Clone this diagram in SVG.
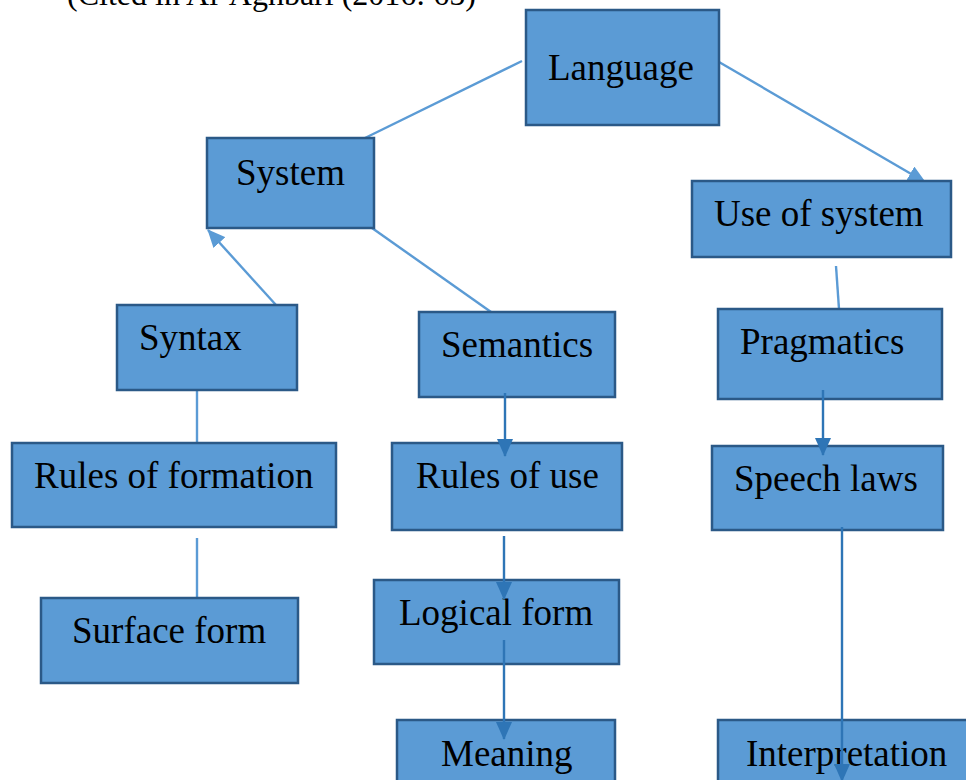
<svg xmlns="http://www.w3.org/2000/svg" width="966" height="780" viewBox="0 0 966 780">
<defs>
<style>
.box{fill:#5b9bd5;stroke:#2b5987;stroke-width:2.5}
.t{font-family:"Liberation Serif","Times New Roman",serif;font-size:37px;fill:#000}
.cap{font-family:"Liberation Serif","Times New Roman",serif;font-size:32px;fill:#000}
.cl{stroke:#5b9bd5;stroke-width:2.4;fill:none}
.cd{stroke:#2e75b6;stroke-width:2.4;fill:none}
</style>
<marker id="al" markerUnits="userSpaceOnUse" markerWidth="18" markerHeight="16" viewBox="0 0 18 16" refX="17" refY="8" orient="auto"><path d="M0,0 L18,8 L0,16 Z" fill="#5b9bd5"/></marker>
<marker id="ad" markerUnits="userSpaceOnUse" markerWidth="18" markerHeight="16" viewBox="0 0 18 16" refX="17" refY="8" orient="auto"><path d="M0,0 L18,8 L0,16 Z" fill="#2e75b6"/></marker>
</defs>
<rect width="966" height="780" fill="#fff"/>
<text class="cap" x="67" y="5">(Cited in Al-Aghbari (2016: 65)</text>
<g id="connectors">
<line class="cl" x1="522" y1="61" x2="365" y2="138"/>
<line class="cl" x1="719" y1="62" x2="925" y2="182" marker-end="url(#al)"/>
<line class="cl" x1="276" y1="305" x2="208" y2="230" marker-end="url(#al)"/>
<line class="cl" x1="372" y1="228" x2="491" y2="312"/>
<line class="cl" x1="197" y1="390" x2="197" y2="443"/>
<line class="cl" x1="197" y1="538" x2="197" y2="598"/>
<line class="cl" x1="836" y1="266" x2="839" y2="309"/>
</g>
<g id="n-language"><rect class="box" x="526" y="10" width="193" height="115"/><text class="t" x="548" y="80">Language</text></g>
<g id="n-system"><rect class="box" x="207" y="138" width="167" height="90"/><text class="t" x="236" y="185">System</text></g>
<g id="n-use"><rect class="box" x="692" y="181" width="259" height="76"/><text class="t" x="714" y="226">Use of system</text></g>
<g id="n-syntax"><rect class="box" x="117" y="305" width="180" height="85"/><text class="t" x="139" y="350">Syntax</text></g>
<g id="n-semantics"><rect class="box" x="419" y="312" width="196" height="85"/><text class="t" x="441" y="357">Semantics</text></g>
<g id="n-pragmatics"><rect class="box" x="718" y="309" width="224" height="90"/><text class="t" x="740" y="354">Pragmatics</text></g>
<g id="n-rof"><rect class="box" x="12" y="443" width="324" height="84"/><text class="t" x="34" y="488">Rules of formation</text></g>
<g id="n-rou"><rect class="box" x="392" y="443" width="230" height="87"/><text class="t" x="416" y="488">Rules of use</text></g>
<g id="n-speech"><rect class="box" x="712" y="446" width="231" height="84"/><text class="t" x="734" y="491">Speech laws</text></g>
<g id="n-surface"><rect class="box" x="41" y="598" width="257" height="85"/><text class="t" x="72" y="643">Surface form</text></g>
<g id="n-logical"><rect class="box" x="374" y="580" width="245" height="84"/><text class="t" x="399" y="625">Logical form</text></g>
<g id="n-meaning"><rect class="box" x="397" y="720" width="218" height="70"/><text class="t" x="441" y="766">Meaning</text></g>
<g id="n-interp"><rect class="box" x="718" y="720" width="260" height="70"/><text class="t" x="746" y="766">Interpretation</text></g>
<g id="connectors-dark">
<line class="cd" x1="505" y1="393" x2="505" y2="456" marker-end="url(#ad)"/>
<line class="cd" x1="504" y1="536" x2="504" y2="599" marker-end="url(#ad)"/>
<line class="cd" x1="504" y1="640" x2="504" y2="739" marker-end="url(#ad)"/>
<line class="cd" x1="823" y1="390" x2="823" y2="455" marker-end="url(#ad)"/>
<line class="cd" x1="842" y1="527" x2="842" y2="781" marker-end="url(#ad)"/>
</g>
</svg>
